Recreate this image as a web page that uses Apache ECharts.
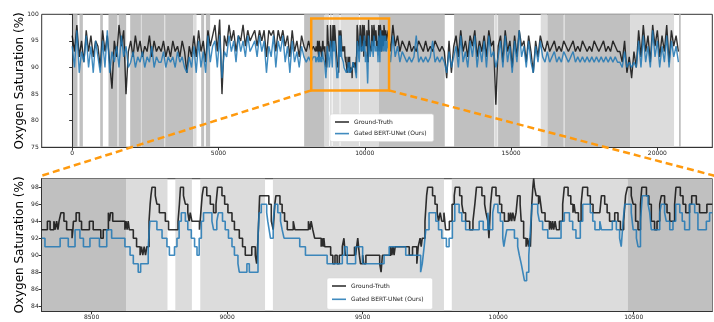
<!DOCTYPE html>
<html>
<head>
<meta charset="utf-8">
<script src="https://cdn.jsdelivr.net/npm/echarts@6/dist/echarts.min.js"></script>
<style>
html, body { margin: 0; padding: 0; background: #fff; }
#chart { width: 714px; height: 322px; }
</style>
</head>
<body>
<div id="chart"></div>
<script>
var names = ['Ground-Truth', 'Gated BERT-UNet (Ours)'];

// full recording, one value every 80 samples (before and after the zoomed window)
var stepTop = 80;
var startTopB = 10800;
var gtTopA = [96,93,98,92,95,91,97,93,96,92,95,94,
  90,97,93,96,91,86,95,92,98,94,97,85,93,
  95,92,96,93,95,92,94,93,96,92,95,93,94,
  93,95,92,94,92,95,93,94,92,95,93,89,94,92,
  96,92,97,93,95,91,97,94,96,
  98,93,99,85,96,
  94,98,95,97,93,96,95,98,94,97,95,96,
  97,94,97,95,97,92,97,96,97,93,97,95,97,94,96,92,97,93,95,92,96,
  94,93,95,93,94];
var predTopA = [94,90,97,89,93,91,96,90,94,89,95,92,
  89,95,90,97,89,93,91,94,90,96,92,94,90,
  91,93,90,92,91,93,90,92,91,94,90,92,91,
  91,93,90,92,91,92,90,93,91,92,90,89,92,90,
  94,89,95,90,93,89,96,91,94,
  95,90,96,88,93,
  92,96,93,95,91,96,93,95,92,96,93,94,
  95,92,96,93,95,89,94,92,96,90,95,93,96,91,94,89,95,91,93,90,94,
  92,91,92,91,92];
var gtTopB = [97,93,98,94,96,93,95,
  94,93,95,93,94,93,95,94,93,95,93,94,93,95,94,93,94,
  93,88,95,89,94,
  96,92,97,93,95,92,96,94,97,92,95,93,96,92,97,94,95,
  83,94,
  96,91,97,93,95,90,96,92,97,94,95,91,96,93,89,95,92,96,
  94,93,95,93,94,95,93,94,93,95,94,93,94,95,93,94,93,95,94,93,94,93,95,94,93,94,95,93,94,93,95,94,93,
  93,91,95,89,92,88,93,90,
  97,92,98,93,96,91,98,94,97,92,96,93,98,91,97,94,96,93];
var predTopB = [95,91,96,92,94,91,93,
  92,91,92,91,92,96,91,92,91,92,91,92,95,91,92,91,92,
  91,89,93,90,92,
  94,90,96,91,93,90,95,92,96,90,94,91,95,90,96,92,93,
  90,92,
  95,90,96,91,94,89,95,91,97,92,94,90,95,91,89,94,91,95,
  92,91,93,91,92,93,91,92,91,93,92,91,92,93,91,92,91,92,91,92,91,92,91,92,91,92,91,92,91,92,91,92,91,
  91,90,93,90,91,90,91,90,
  95,90,96,91,94,90,97,92,95,90,94,91,96,90,95,92,94,91];

// zoomed window, [sample, value] where the value changes
var gtZoom = [[8316,93],[8337,94],[8347,93],[8361,94],[8366,93],[8371,94],[8376,93],[8380,94],[8387,95],[8398,94],[8408,93],[8428,92],[8431,93],[8433,94],[8443,95],[8455,94],[8463,93],[8492,94],[8506,93],[8534,92],[8543,93],[8562,95],[8566,94],[8570,95],[8578,94],[8623,93],[8627,94],[8631,93],[8635,94],[8639,93],[8654,92],[8666,91],[8679,90],[8684,91],[8689,90],[8694,91],[8699,90],[8704,91],[8712,94],[8716,96],[8719,97],[8723,98],
  [8735,97],[8741,96],[8750,95],[8772,94],[8784,93],[8819,94],[8824,96],[8828,98],[8839,97],[8846,96],[8855,95],[8860,94],[8864,95],[8870,94],[8898,93],[8903,95],[8908,97],[8913,98],[8925,97],[8938,96],[8950,95],[8959,96],[8965,98],[8981,97],[8991,96],[9003,95],[9018,94],[9027,93],[9045,92],[9057,91],[9067,90],[9091,91],[9104,90],[9109,89],[9114,92],[9120,97],
  [9154,96],[9163,94],[9170,93],[9176,96],[9180,97],[9195,96],[9203,95],[9212,94],[9222,93],[9244,94],[9250,93],[9300,94],[9306,93],[9310,94],[9316,93],[9323,92],[9347,91],[9350,92],[9354,91],[9357,92],[9360,91],[9382,90],[9390,89],[9398,90],[9406,89],[9414,90],[9425,91],[9431,92],[9436,90],[9470,91],[9474,90],[9478,91],[9482,92],[9488,90],[9492,89],[9500,90],[9504,89],[9512,90],
  [9549,90],[9563,89],[9568,88],[9573,90],[9604,91],[9608,90],[9612,91],[9616,90],[9620,91],[9672,90],[9684,91],[9700,89],[9705,91],[9712,92],[9716,91],[9720,92],[9730,94],[9736,97],[9740,98],[9758,97],[9767,96],[9775,95],[9780,94],[9786,95],[9792,94],[9800,95],[9806,93],[9820,94],[9830,96],[9838,97],[9842,98],[9858,97],[9866,96],[9871,95],[9880,94],[9895,93],[9907,94],[9914,96],[9920,98],[9940,97],[9950,96],[9955,95],
  [9962,94],[9966,92],[9972,96],[9978,98],[9992,97],[10005,96],[10013,95],[10023,94],[10038,95],[10042,94],[10046,95],[10050,94],[10054,95],[10060,94],[10066,95],[10072,97],[10081,96],[10085,94],[10094,92],[10103,91],[10107,92],[10112,91],[10116,92],[10119,91],[10124,96],[10128,98],[10131,99],[10134,98],[10140,97],[10149,96],[10153,97],[10157,96],[10161,95],[10173,94],[10189,93],[10193,94],[10197,93],[10201,94],[10205,93],[10210,94],[10215,93],[10226,94],[10238,96],[10244,98],[10258,97],[10268,96],[10276,95],[10280,96],[10284,95],[10296,94],[10306,96],[10312,98],[10330,97],[10340,96],[10350,95],
  [10375,95],[10381,97],[10393,96],[10402,95],[10411,94],[10430,95],[10442,94],[10451,93],[10463,94],[10470,97],[10477,98],[10491,97],[10498,96],[10507,94],[10516,93],[10525,96],[10530,98],[10547,97],[10556,96],[10565,94],[10577,93],[10586,94],[10596,96],[10602,97],[10614,96],[10623,95],[10633,94],[10651,96],[10656,98],[10672,97],[10682,96],[10692,95],[10706,96],[10714,97],[10731,96],[10743,95],[10770,96],[10790,96]];
var predZoom = [[8316,92],[8328,91],[8384,92],[8414,91],[8439,93],[8457,92],[8470,91],[8494,92],[8529,91],[8556,93],[8574,92],[8623,91],[8642,90],[8654,89],[8672,88],[8681,89],[8709,91],[8715,94],
  [8741,93],[8760,92],[8778,91],[8787,90],[8806,91],[8815,92],[8823,94],[8831,95],[8846,94],[8855,93],[8868,92],[8880,91],[8889,90],[8897,92],[8905,94],[8913,95],[8944,94],[8950,93],[8962,94],[8968,95],[8983,94],[8993,93],[9005,92],[9018,91],[9027,90],[9040,89],[9045,88],[9073,89],[9082,88],[9114,92],[9118,95],[9126,96],
  [9146,95],[9150,94],[9155,93],[9160,92],[9170,94],[9176,96],[9187,95],[9197,94],[9203,93],[9210,92],[9268,91],[9289,90],[9369,89],[9425,90],[9433,91],[9443,89],[9474,91],[9500,89],
  [9579,90],[9598,91],[9659,90],[9714,88],[9720,89],[9727,91],[9733,93],[9745,95],[9770,94],[9780,93],[9792,92],[9809,91],[9819,92],[9831,94],[9840,96],[9856,95],[9866,94],[9880,93],[9930,94],[9945,93],
  [9962,95],[9968,93],[9980,95],[9986,96],[9999,95],[10008,94],[10017,92],[10021,91],[10026,92],[10032,93],[10060,92],[10072,91],[10078,90],[10085,89],[10091,88],[10097,87],[10105,88],[10113,90],[10119,93],[10125,96],[10146,95],[10152,94],[10164,93],[10183,92],[10232,94],[10244,95],[10263,94],[10275,93],[10287,92],[10303,94],[10312,96],[10340,95],[10349,94],[10357,93],
  [10375,94],[10381,93],[10421,94],[10436,93],[10448,92],[10454,91],[10461,94],[10467,96],[10491,95],[10498,93],[10510,92],[10516,91],[10525,94],[10532,97],[10553,96],[10559,95],[10565,93],[10596,95],[10602,96],[10614,95],[10620,94],[10633,93],[10645,94],[10655,96],[10670,95],[10679,94],[10688,93],[10706,96],[10725,95],[10737,93],[10768,94],[10780,95],[10790,95]];

// shaded stages: [start, end, level] (0 dark, 1 light)
var bands = [[-10,180,0],[250,365,0],[957,1048,0],[1241,1549,0],[1583,1845,0],[1982,2350,0],[2350,2380,1],[2380,3150,0],[3150,3180,1],[3180,4140,0],[4140,4250,1],[4408,4510,0],[4568,4715,0],
  [7928,8627,0],[8627,8780,1],[8809,8870,1],[8901,9140,1],[9169,9800,1],[9829,10478,1],[10478,12734,0],[13053,14420,0],[14430,14540,1],[14556,15297,0],
  [16014,16240,1],[16242,16800,0],[16800,16840,1],[16840,19067,0],[19067,20570,1],[20740,20800,0]];
var bandColors = ['#c0c0c0', '#dcdcdc'];

var topX = [-1042, 21878], topY = [75, 100];
var zoomX = [8316, 10790], zoomY = [83.4, 99.0];
var topTicks = [0, 5000, 10000, 15000, 20000];
var zoomXTicks = [8500, 9000, 9500, 10000, 10500];
var zoomYTicks = [84, 86, 88, 90, 92, 94, 96, 98];
var box = [8170, 10830, 85.7, 99.2];

function fullSeries(a, zoom, b) {
  var out = a.map(function (v, i) { return [i * stepTop, v]; });
  out = out.concat(zoom);
  return out.concat(b.map(function (v, j) { return [startTopB + j * stepTop, v]; }));
}

function renderBand(params, api) {
  var p0 = api.coord([api.value(0), 0]);
  var p1 = api.coord([api.value(1), 0]);
  var cs = params.coordSys;
  var shape = echarts.graphic.clipRectByRect(
    { x: p0[0], y: cs.y, width: p1[0] - p0[0], height: cs.height }, cs);
  return shape && { type: 'rect', shape: shape, style: { fill: bandColors[api.value(2)] } };
}

function renderBox(params, api) {
  var a = api.coord([api.value(0), api.value(3)]);
  var b = api.coord([api.value(1), api.value(2)]);
  return { type: 'rect', shape: { x: a[0], y: a[1], width: b[0] - a[0], height: b[1] - a[1] },
    style: { fill: 'none', stroke: '#ff9a0e', lineWidth: 2.5 } };
}

var font = 'DejaVu Sans';
var gtColor = 'rgba(0,0,0,0.8)', predColor = 'rgba(31,119,180,0.85)';

function plain(v) { return String(v); }

function xAxis(grid, range, ticks) {
  return {
    type: 'value', gridIndex: grid, min: range[0], max: range[1],
    axisLine: { lineStyle: { color: '#333', width: 1 } },
    axisTick: { customValues: ticks, length: 3, lineStyle: { color: '#333' } },
    axisLabel: { customValues: ticks, fontSize: 6, color: '#222', margin: 3, fontFamily: font, formatter: plain },
    splitLine: { show: false }
  };
}
function yAxis(grid, range, ticks) {
  return {
    type: 'value', gridIndex: grid, min: range[0], max: range[1],
    name: 'Oxygen Saturation (%)', nameLocation: 'middle', nameGap: 16, nameMoveOverlap: false,
    nameTextStyle: { fontSize: 12, color: '#000', fontFamily: font },
    axisLine: { show: true, lineStyle: { color: '#333', width: 1 } },
    axisTick: { show: true, customValues: ticks, length: 3, lineStyle: { color: '#333' } },
    axisLabel: { customValues: ticks, fontSize: 6, color: '#222', margin: 3, fontFamily: font, formatter: plain },
    splitLine: { show: false }
  };
}
function legend(left, top, gap, pad) {
  return {
    data: names, left: left, top: top, orient: 'vertical', selectedMode: false,
    icon: 'rect', itemWidth: 14, itemHeight: 1.6, itemGap: gap, padding: pad,
    backgroundColor: '#fff', borderColor: '#d8d8d8', borderWidth: 0.6, borderRadius: 2,
    textStyle: { fontSize: 6, lineHeight: 8, color: '#222', fontFamily: font }
  };
}

var chart = echarts.init(document.getElementById('chart'), null, { renderer: 'canvas' });
chart.setOption({
  animation: false,
  grid: [
    { left: 41.7, right: 1.7, top: 14.3, height: 133, show: true, borderColor: '#333', borderWidth: 1 },
    { left: 41.7, right: 1.7, top: 178.7, height: 132.6, show: true, borderColor: '#333', borderWidth: 1 }
  ],
  xAxis: [xAxis(0, topX, topTicks), xAxis(1, zoomX, zoomXTicks)],
  yAxis: [
    Object.assign(yAxis(0, topY, null), { interval: 5, axisTick: { length: 3, lineStyle: { color: '#333' } },
      axisLabel: { fontSize: 6, color: '#222', margin: 3, fontFamily: font } }),
    yAxis(1, zoomY, zoomYTicks)
  ],
  legend: [legend(330, 114, 3.6, [4, 7, 4, 5]), legend(327, 278, 5.3, [4, 9, 6, 5])],
  series: [
    { type: 'custom', xAxisIndex: 0, yAxisIndex: 0, z: 0, silent: true, renderItem: renderBand, data: bands },
    { name: names[0], type: 'line', xAxisIndex: 0, yAxisIndex: 0, showSymbol: false, symbol: 'none',
      z: 2, lineStyle: { color: gtColor, width: 1.4 }, itemStyle: { color: gtColor },
      data: fullSeries(gtTopA, gtZoom, gtTopB) },
    { name: names[1], type: 'line', xAxisIndex: 0, yAxisIndex: 0, showSymbol: false, symbol: 'none',
      z: 3, lineStyle: { color: predColor, width: 1.4 }, itemStyle: { color: predColor },
      data: fullSeries(predTopA, predZoom, predTopB) },
    { type: 'custom', xAxisIndex: 0, yAxisIndex: 0, z: 5, silent: true, renderItem: renderBox, data: [box] },
    { type: 'custom', xAxisIndex: 1, yAxisIndex: 1, z: 0, silent: true, renderItem: renderBand, data: bands },
    { name: names[0], type: 'line', xAxisIndex: 1, yAxisIndex: 1, step: 'end', showSymbol: false, symbol: 'none',
      z: 2, lineStyle: { color: gtColor, width: 1.6 }, itemStyle: { color: gtColor }, data: gtZoom },
    { name: names[1], type: 'line', xAxisIndex: 1, yAxisIndex: 1, step: 'end', showSymbol: false, symbol: 'none',
      z: 3, lineStyle: { color: predColor, width: 1.6 }, itemStyle: { color: predColor }, data: predZoom }
  ]
});

// dashed orange connectors from the box to the zoomed axes
var bl = chart.convertToPixel({ gridIndex: 0 }, [box[0], box[2]]);
var br = chart.convertToPixel({ gridIndex: 0 }, [box[1], box[2]]);
var zl = chart.convertToPixel({ gridIndex: 1 }, [zoomX[0], zoomY[1]]);
var zr = chart.convertToPixel({ gridIndex: 1 }, [zoomX[1], zoomY[1]]);
var dash = { stroke: '#ff9a0e', lineWidth: 2.5, lineDash: [7, 4] };
chart.setOption({
  graphic: [
    { type: 'line', z: 10, silent: true, shape: { x1: bl[0], y1: bl[1], x2: zl[0], y2: zl[1] - 3 }, style: dash },
    { type: 'line', z: 10, silent: true, shape: { x1: br[0], y1: br[1], x2: zr[0] + 2, y2: zr[1] - 3 }, style: dash }
  ]
});
</script>
</body>
</html>
